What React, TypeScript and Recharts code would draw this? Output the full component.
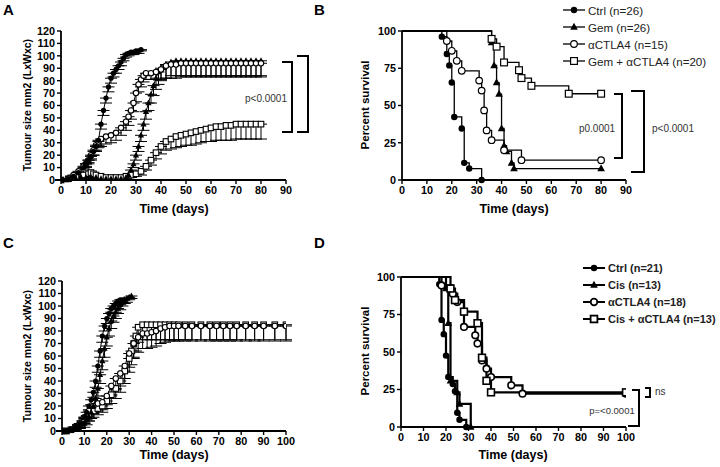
import { LineChart, Line, XAxis, YAxis, ErrorBar } from "recharts";

const FONT = "'Liberation Sans', Arial, Helvetica, sans-serif";

// ---- A: tumour growth, Gem / aCTLA4 (mean, SEM below) ----
const ctrlADays = [0, 3, 5, 7, 9, 10, 11, 12, 13, 14, 15, 16, 17, 18, 19, 20, 21, 22, 23, 24, 25, 26, 27, 28, 29, 30, 31, 32];
const ctrlAVals = [0, 1, 3, 6, 10, 13, 16, 19, 23, 27, 32, 45, 56, 66, 75, 82, 86, 89, 92, 95, 98, 101, 102, 103, 103, 104, 104, 105];
const ctrlAErr = [0, 0.5, 1, 1, 2, 2, 2, 3, 3, 3, 4, 4, 4, 4, 4, 4, 3, 3, 3, 3, 2, 2, 2, 2, 2, 2, 2, 1];

const gemADays = [0, 2, 4, 6, 8, 10, 12, 14, 16, 18, 20, 22, 24, 26, 27, 28, 29, 30, 31, 32, 33, 34, 35, 36, 37, 38, 39, 40, 42, 44, 46, 48, 50, 52, 54, 56, 58, 60, 62, 64, 66, 68, 70, 72, 74, 76, 78, 80];
const gemAVals = [0, 0, 1, 1, 2, 2, 2, 2, 1, 1, 1, 1, 1, 2, 4, 8, 13, 20, 27, 36, 45, 55, 62, 69, 76, 82, 87, 90, 93, 95, 96, 96, 96, 96, 96, 96, 96, 96, 96, 96, 96, 96, 96, 96, 96, 96, 96, 96];
const gemAErr = [0, 0, 0.5, 0.5, 1, 1, 1, 1, 1, 1, 1, 1, 1, 1, 2, 3, 3, 4, 4, 5, 5, 6, 6, 7, 8, 9, 10, 10, 11, 11, 12, 12, 12, 12, 12, 12, 12, 12, 12, 12, 12, 12, 12, 12, 12, 12, 12, 12];

const ctlaADays = [0, 3, 5, 7, 9, 10, 11, 12, 13, 14, 15, 16, 18, 20, 22, 24, 26, 27, 28, 29, 30, 31, 32, 33, 34, 36, 38, 40, 42, 44, 46, 48, 50, 52, 54, 56, 58, 60, 62, 64, 66, 68, 70, 72, 74, 76, 78, 80];
const ctlaAVals = [0, 1, 4, 7, 11, 13, 16, 20, 24, 28, 31, 33, 35, 36, 38, 42, 47, 51, 56, 62, 70, 77, 81, 84, 86, 86, 87, 89, 92, 93, 93, 94, 94, 94, 94, 94, 94, 94, 94, 94, 94, 94, 94, 94, 94, 94, 94, 94];
const ctlaAErr = [0, 0.5, 1, 2, 2, 3, 3, 3, 4, 5, 5, 6, 6, 6, 6, 6, 7, 7, 7, 7, 7, 6, 6, 5, 5, 5, 6, 8, 10, 11, 11, 11, 11, 11, 11, 11, 11, 11, 11, 11, 11, 11, 11, 11, 11, 11, 11, 11];

const comboADays = [0, 3, 6, 9, 11, 12, 13, 14, 16, 18, 20, 22, 24, 26, 28, 30, 32, 34, 36, 38, 40, 42, 44, 46, 48, 50, 52, 54, 56, 58, 60, 62, 64, 66, 68, 70, 72, 74, 76, 78, 80];
const comboAVals = [0, 1, 2, 4, 5, 6, 5, 4, 3, 2, 2, 2, 2, 3, 4, 5, 7, 11, 16, 22, 27, 31, 33, 35, 36, 37, 38, 39, 40, 41, 42, 43, 43, 44, 44, 45, 45, 45, 45, 45, 45];
const comboAErr = [0, 0.5, 1, 2, 2, 2, 2, 2, 1, 1, 1, 1, 1, 1, 2, 2, 3, 3, 4, 5, 6, 7, 8, 9, 9, 9, 10, 10, 10, 10, 11, 11, 11, 12, 12, 12, 12, 12, 12, 12, 12];

// ---- B: survival, Gem / aCTLA4 ----
const ctrlBDays = [0, 16, 18, 19, 20, 21, 24, 25, 27, 32];
const ctrlBSurv = [100, 96.2, 84.6, 76.9, 65.4, 42.3, 34.6, 11.5, 7.7, 0];
const gemBDays = [0, 36, 37, 38, 39, 40, 41, 42, 44, 45, 80];
const gemBSurv = [100, 92.3, 76.9, 65.4, 57.7, 34.6, 23.1, 19.2, 11.5, 7.7, 7.7];
const ctlaBDays = [0, 18, 20, 22, 24, 31, 32, 33, 34, 36, 41, 48, 80];
const ctlaBSurv = [100, 93.3, 86.7, 80, 73.3, 66.7, 60, 46.7, 33.3, 26.7, 20, 13.3, 13.3];
const comboBDays = [0, 36, 38, 41, 47, 48, 52, 67, 80];
const comboBSurv = [100, 94.7, 89.5, 78.9, 73.7, 68.4, 63.2, 57.9, 57.9];

// ---- C: tumour growth, Cis / aCTLA4 ----
const ctrlCDays = [0, 2, 4, 6, 8, 10, 11, 12, 13, 14, 15, 16, 17, 18, 19, 20, 21, 22, 23, 24, 25, 26, 27];
const ctrlCVals = [0, 0, 1, 3, 6, 11, 15, 20, 25, 31, 40, 52, 64, 76, 84, 90, 94, 98, 100, 102, 104, 105, 105];
const ctrlCErr = [0, 0, 0.5, 1, 1.5, 2, 3, 3, 4, 4, 5, 5, 5, 5, 4, 4, 4, 3, 3, 3, 3, 2, 2];

const cisCDays = [0, 2, 4, 6, 8, 10, 11, 12, 13, 14, 15, 16, 17, 18, 19, 20, 21, 22, 23, 24, 25, 26, 27, 28, 29, 30, 31];
const cisCVals = [0, 0, 1, 2, 4, 6, 9, 12, 15, 20, 26, 34, 45, 56, 66, 75, 82, 88, 92, 95, 98, 101, 103, 105, 106, 107, 108];
const cisCErr = [0, 0, 1, 1, 2, 3, 4, 4, 5, 5, 6, 6, 7, 7, 7, 7, 6, 6, 5, 5, 4, 4, 3, 3, 3, 2, 2];

const ctlaCDays = [0, 2, 4, 6, 8, 10, 12, 14, 16, 18, 20, 22, 24, 26, 28, 30, 32, 34, 36, 38, 40, 42, 44, 46, 48, 50, 52, 55, 58, 62, 66, 69, 72, 75, 78, 82, 86, 90, 95, 100];
const ctlaCVals = [0, 0, 1, 3, 6, 11, 16, 20, 22, 23, 28, 36, 42, 46, 52, 62, 70, 75, 78, 78, 79, 80, 82, 83, 84, 84, 84, 84, 84, 84, 84, 84, 84, 84, 84, 84, 84, 84, 84, 84];
const ctlaCErr = [0, 0, 1, 2, 3, 4, 5, 6, 6, 6, 7, 8, 9, 10, 10, 11, 11, 12, 12, 12, 12, 12, 12, 12, 12, 12, 12, 12, 12, 12, 12, 12, 12, 12, 12, 12, 12, 12, 12, 12];

const comboCDays = [0, 2, 4, 6, 8, 10, 12, 14, 16, 18, 20, 22, 24, 26, 28, 30, 31, 32, 33, 34, 36, 38, 40, 42, 44, 46, 48, 50, 52, 55, 58, 62, 66, 69, 72, 75, 78, 82, 86, 90, 95, 100];
const comboCVals = [0, 0, 1, 3, 6, 10, 13, 16, 18, 20, 24, 29, 34, 40, 48, 58, 64, 70, 76, 83, 85, 85, 85, 85, 85, 85, 85, 85, 85, 85, 85, 85, 85, 85, 85, 85, 85, 85, 85, 85, 85, 85];
const comboCErr = [0, 0, 1, 2, 3, 4, 5, 5, 5, 5, 6, 7, 8, 9, 10, 11, 11, 12, 12, 12, 12, 12, 12, 12, 12, 12, 12, 12, 12, 12, 12, 12, 12, 12, 12, 12, 12, 12, 12, 12, 12, 12];

// ---- D: survival, Cis / aCTLA4 ----
const ctrlDDays = [0, 17, 18, 19, 20, 21, 23, 24, 25, 26, 29];
const ctrlDSurv = [100, 95.2, 71.4, 61.9, 47.6, 33.3, 28.6, 23.8, 9.5, 4.8, 0];
const cisDDays = [0, 20, 21, 22, 25, 26, 31];
const cisDSurv = [100, 92.3, 69.2, 30.8, 23.1, 15.4, 0];
const ctlaDDays = [0, 18, 23, 25, 28, 33, 34, 36, 38, 40, 49, 54, 100];
const ctlaDSurv = [100, 94.4, 88.9, 83.3, 66.7, 61.1, 55.6, 44.4, 38.9, 33.3, 27.8, 22.2, 22.2];
const comboDDays = [0, 22, 24, 28, 34, 36, 38, 40, 100];
const comboDSurv = [100, 92.3, 84.6, 76.9, 69.2, 46.2, 30.8, 23.1, 23.1];

// axis ticks
const growthTicks = [0, 10, 20, 30, 40, 50, 60, 70, 80, 90, 100, 110, 120];
const survTicks = [0, 25, 50, 75, 100];
const days90 = [0, 10, 20, 30, 40, 50, 60, 70, 80, 90];
const days100 = [0, 10, 20, 30, 40, 50, 60, 70, 80, 90, 100];

const legendB = ["Ctrl (n=26)", "Gem (n=26)", "\u03b1CTLA4 (n=15)", "Gem + \u03b1CTLA4 (n=20)"];
const legendD = ["Ctrl (n=21)", "Cis (n=13)", "\u03b1CTLA4 (n=18)", "Cis + \u03b1CTLA4 (n=13)"];

type Kind = "disc" | "tri" | "ring" | "box";
const kinds: Kind[] = ["disc", "tri", "ring", "box"];

const rows = (days: number[], vals: number[], errs?: number[]) =>
  days.map((d, i) => ({ day: d, v: vals[i], err: errs ? [errs[i], 0] : undefined }));

function marker(kind: Kind, cx: number, cy: number, sw: number, k = 1, key?: string) {
  switch (kind) {
    case "disc":
      return <circle key={key} cx={cx} cy={cy} r={3.2 * k} fill="#000" />;
    case "tri":
      return (
        <polygon
          key={key}
          points={`${cx},${cy - 4.2 * k} ${cx - 3.8 * k},${cy + 2.8 * k} ${cx + 3.8 * k},${cy + 2.8 * k}`}
          fill="#000"
        />
      );
    case "ring":
      return <circle key={key} cx={cx} cy={cy} r={3.3 * k} fill="#fff" stroke="#000" strokeWidth={sw} />;
    default:
      return <rect key={key} x={cx - 3.4 * k} y={cy - 3.4 * k} width={6.8 * k} height={6.8 * k} fill="#fff" stroke="#000" strokeWidth={sw} />;
  }
}

const dotOf = (kind: Kind, sw: number, k: number, hideStart: boolean) => (p: any) => {
  const { cx, cy, index, payload } = p;
  if (cx == null || cy == null || (hideStart && payload?.day === 0)) return <g key={`d${index}`} />;
  return marker(kind, cx, cy, sw, k, `d${index}`);
};

interface Series {
  data: { day: number; v: number; err?: number[] }[];
  kind: Kind;
}

interface PanelProps {
  left: number;
  top: number;
  height: number;
  marginTop: number;
  yWidth: number;
  xHeight: number;
  xMax: number;
  xTicks: number[];
  yMax: number;
  yTicks: number[];
  series: Series[];
  survival?: boolean;
  lineWidth: number;
  markerStroke: number;
  markerScale: number;
}

const tickStyle = { fontSize: 10.8, fontWeight: 700, fill: "#000", fontFamily: FONT };

function Panel(p: PanelProps) {
  return (
    <div style={{ position: "absolute", left: p.left, top: p.top }}>
      <LineChart width={300} height={p.height} margin={{ top: p.marginTop, right: 14, left: 0, bottom: 0 }}>
        <XAxis
          type="number"
          dataKey="day"
          domain={[0, p.xMax]}
          ticks={p.xTicks}
          interval={0}
          height={p.xHeight}
          tick={tickStyle}
          tickSize={4}
          tickLine={{ stroke: "#000", strokeWidth: 1.4 }}
          axisLine={{ stroke: "#000", strokeWidth: 1.8 }}
          allowDataOverflow
        />
        <YAxis
          type="number"
          domain={[0, p.yMax]}
          ticks={p.yTicks}
          interval={0}
          width={p.yWidth}
          tick={tickStyle}
          tickSize={4}
          tickLine={{ stroke: "#000", strokeWidth: 1.4 }}
          axisLine={{ stroke: "#000", strokeWidth: 1.8 }}
        />
        {p.series.map((s, i) => (
          <Line
            key={i}
            data={s.data}
            dataKey="v"
            type={p.survival ? "stepAfter" : "linear"}
            stroke="#000"
            strokeWidth={p.lineWidth}
            dot={dotOf(s.kind, p.markerStroke, p.markerScale, !!p.survival)}
            activeDot={false}
            isAnimationActive={false}
          >
            {!p.survival && <ErrorBar dataKey="err" width={6} stroke="#000" strokeWidth={1} direction="y" />}
          </Line>
        ))}
      </LineChart>
    </div>
  );
}

function Legend({ x, y, labels, bold, lw, size }: { x: number; y: number; labels: string[]; bold: boolean; lw: number; size: number }) {
  return (
    <g>
      {labels.map((t, i) => {
        const cy = y + i * 17;
        return (
          <g key={t}>
            <line x1={x} x2={x + 22} y1={cy} y2={cy} stroke="#000" strokeWidth={lw} />
            {marker(kinds[i], x + 11, cy, lw * 0.9)}
            <text x={x + 25} y={cy} dominantBaseline="central" fontSize={size} fontWeight={bold ? 700 : 400} fill="#222">
              {t}
            </text>
          </g>
        );
      })}
    </g>
  );
}

export default function App() {
  const bracket = (x1: number, x2: number, y1: number, y2: number) => (
    <path d={`M${x1},${y1} H${x2} V${y2} H${x1}`} fill="none" stroke="#000" strokeWidth={2} />
  );
  const title = { fontSize: 12.5, fontWeight: 700, fill: "#000" } as const;
  return (
    <div style={{ position: "relative", width: 720, height: 467, background: "#fff", fontFamily: FONT }}>
      <style>{"body{margin:0}"}</style>
      <Panel
        left={0}
        top={0}
        height={215}
        marginTop={31}
        yWidth={61}
        xHeight={35}
        xMax={90}
        xTicks={days90}
        yMax={120}
        yTicks={growthTicks}
        lineWidth={1}
        markerStroke={1.1}
        markerScale={0.82}
        series={[
          { data: rows(comboADays, comboAVals, comboAErr), kind: "box" },
          { data: rows(gemADays, gemAVals, gemAErr), kind: "tri" },
          { data: rows(ctlaADays, ctlaAVals, ctlaAErr), kind: "ring" },
          { data: rows(ctrlADays, ctrlAVals, ctrlAErr), kind: "disc" },
        ]}
      />
      <Panel
        left={340}
        top={0}
        height={215}
        marginTop={31}
        yWidth={62}
        xHeight={35}
        xMax={90}
        xTicks={days90}
        yMax={100}
        yTicks={survTicks}
        survival
        lineWidth={1.3}
        markerStroke={1.2}
        markerScale={1}
        series={[
          { data: rows(ctrlBDays, ctrlBSurv), kind: "disc" },
          { data: rows(gemBDays, gemBSurv), kind: "tri" },
          { data: rows(ctlaBDays, ctlaBSurv), kind: "ring" },
          { data: rows(comboBDays, comboBSurv), kind: "box" },
        ]}
      />
      <Panel
        left={0}
        top={235}
        height={232}
        marginTop={46}
        yWidth={62}
        xHeight={36}
        xMax={100}
        xTicks={days100}
        yMax={120}
        yTicks={growthTicks}
        lineWidth={1}
        markerStroke={1.1}
        markerScale={0.82}
        series={[
          { data: rows(comboCDays, comboCVals, comboCErr), kind: "box" },
          { data: rows(ctlaCDays, ctlaCVals, ctlaCErr), kind: "ring" },
          { data: rows(cisCDays, cisCVals, cisCErr), kind: "tri" },
          { data: rows(ctrlCDays, ctrlCVals, ctrlCErr), kind: "disc" },
        ]}
      />
      <Panel
        left={340}
        top={235}
        height={232}
        marginTop={42}
        yWidth={61}
        xHeight={40}
        xMax={100}
        xTicks={days100}
        yMax={100}
        yTicks={survTicks}
        survival
        lineWidth={2.2}
        markerStroke={1.6}
        markerScale={1}
        series={[
          { data: rows(ctrlDDays, ctrlDSurv), kind: "disc" },
          { data: rows(cisDDays, cisDSurv), kind: "tri" },
          { data: rows(ctlaDDays, ctlaDSurv), kind: "ring" },
          { data: rows(comboDDays, comboDSurv), kind: "box" },
        ]}
      />
      <svg width={720} height={467} style={{ position: "absolute", left: 0, top: 0, pointerEvents: "none" }} fontFamily={FONT}>
        <g fontSize={15} fontWeight={700} fill="#000">
          <text x={3} y={15}>A</text>
          <text x={314} y={15}>B</text>
          <text x={3} y={248}>C</text>
          <text x={314} y={248}>D</text>
        </g>
        <text transform="translate(27,105) rotate(-90)" textAnchor="middle" dominantBaseline="central" fontSize={10.5} fontWeight={700}>
          Tumour size mm2 (LxWxc)
        </text>
        <text transform="translate(27,356) rotate(-90)" textAnchor="middle" dominantBaseline="central" fontSize={10.5} fontWeight={700}>
          Tumour size mm2 (LxWxc)
        </text>
        <text transform="translate(365,105) rotate(-90)" textAnchor="middle" dominantBaseline="central" fontSize={11.5} fontWeight={700}>
          Percent survival
        </text>
        <text transform="translate(365,351) rotate(-90)" textAnchor="middle" dominantBaseline="central" fontSize={11.5} fontWeight={700}>
          Percent survival
        </text>
        <text x={174} y={209} textAnchor="middle" dominantBaseline="central" {...title}>Time (days)</text>
        <text x={514} y={209} textAnchor="middle" dominantBaseline="central" {...title}>Time (days)</text>
        <text x={174} y={455} textAnchor="middle" dominantBaseline="central" {...title}>Time (days)</text>
        <text x={513} y={455} textAnchor="middle" dominantBaseline="central" {...title}>Time (days)</text>

        <Legend x={563} y={10} labels={legendB} bold={false} lw={1.3} size={11.6} />
        <Legend x={583} y={268} labels={legendD} bold lw={2} size={11} />

        {bracket(282, 292, 62, 132)}
        {bracket(297, 308, 56, 132)}
        <text x={266} y={98} textAnchor="middle" dominantBaseline="central" fontSize={10} fill="#333">p&lt;0.0001</text>

        {bracket(614, 622, 94, 158)}
        {bracket(631, 644, 91, 172)}
        <text x={597} y={128} textAnchor="middle" dominantBaseline="central" fontSize={10} fill="#333">p0.0001</text>
        <text x={652} y={128} dominantBaseline="central" fontSize={10} fill="#333">p&lt;0.0001</text>

        <path d="M632,390 H639 V426 H628" fill="none" stroke="#000" strokeWidth={2} />
        {bracket(645, 650, 388, 397)}
        <text x={655} y={391} dominantBaseline="central" fontSize={10} fill="#333">ns</text>
        <text x={612} y={410} textAnchor="middle" dominantBaseline="central" fontSize={9.5} fill="#333">p=&lt;0.0001</text>
      </svg>
    </div>
  );
}
